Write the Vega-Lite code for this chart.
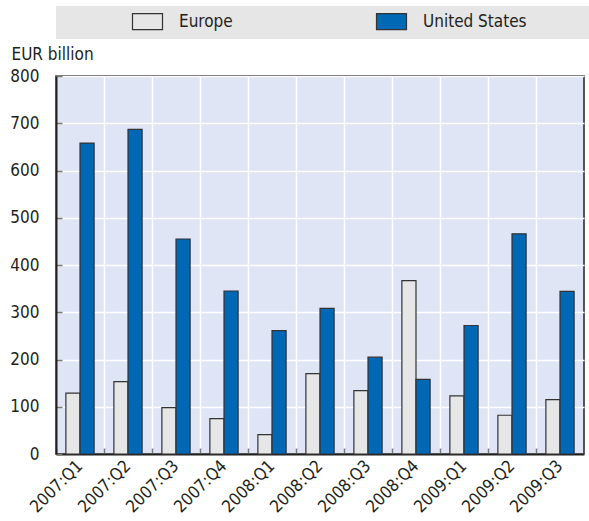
{
  "$schema": "https://vega.github.io/schema/vega-lite/v6.json",
  "width": 528,
  "height": 378,
  "autosize": {"type": "none"},
  "padding": {"left": 56, "top": 76, "right": 5, "bottom": 67},
  "background": "white",
  "config": {
    "font": "DejaVu Sans Condensed, Liberation Sans Narrow, sans-serif",
    "view": {"fill": "#dfe5f4", "stroke": "#231f20", "strokeWidth": 1.5},
    "axis": {"labelFont": "DejaVu Sans Condensed, Liberation Sans Narrow, sans-serif", "titleFont": "DejaVu Sans Condensed, Liberation Sans Narrow, sans-serif"},
    "legend": {"labelFont": "DejaVu Sans Condensed, Liberation Sans Narrow, sans-serif", "titleFont": "DejaVu Sans Condensed, Liberation Sans Narrow, sans-serif"}
  },
  "data": {
    "values": [
      {"quarter": "2007:Q1", "region": "Europe", "value": 129},
      {"quarter": "2007:Q2", "region": "Europe", "value": 153},
      {"quarter": "2007:Q3", "region": "Europe", "value": 98},
      {"quarter": "2007:Q4", "region": "Europe", "value": 75},
      {"quarter": "2008:Q1", "region": "Europe", "value": 41},
      {"quarter": "2008:Q2", "region": "Europe", "value": 170},
      {"quarter": "2008:Q3", "region": "Europe", "value": 134},
      {"quarter": "2008:Q4", "region": "Europe", "value": 367},
      {"quarter": "2009:Q1", "region": "Europe", "value": 123},
      {"quarter": "2009:Q2", "region": "Europe", "value": 82},
      {"quarter": "2009:Q3", "region": "Europe", "value": 115},
      {"quarter": "2007:Q1", "region": "United States", "value": 658},
      {"quarter": "2007:Q2", "region": "United States", "value": 687},
      {"quarter": "2007:Q3", "region": "United States", "value": 455},
      {"quarter": "2007:Q4", "region": "United States", "value": 345},
      {"quarter": "2008:Q1", "region": "United States", "value": 261},
      {"quarter": "2008:Q2", "region": "United States", "value": 308},
      {"quarter": "2008:Q3", "region": "United States", "value": 205},
      {"quarter": "2008:Q4", "region": "United States", "value": 158},
      {"quarter": "2009:Q1", "region": "United States", "value": 272},
      {"quarter": "2009:Q2", "region": "United States", "value": 466},
      {"quarter": "2009:Q3", "region": "United States", "value": 344}
    ]
  },
  "mark": {"type": "bar", "stroke": "#333333", "strokeWidth": 1.2},
  "encoding": {
    "x": {
      "field": "quarter",
      "type": "nominal",
      "sort": null,
      "scale": {"paddingInner": 0, "paddingOuter": 0},
      "axis": {
        "title": null,
        "bandPosition": 0,
        "grid": true,
        "gridColor": "white",
        "gridWidth": 1.5,
        "domainColor": "#231f20",
        "domainWidth": 2,
        "tickSize": -6,
        "tickColor": "#777777",
        "tickWidth": 1.5,
        "labelOffset": 0,
        "labelAngle": -45,
        "labelAlign": "right",
        "labelBaseline": "middle",
        "labelPadding": 15,
        "labelFontSize": 17,
        "labelColor": "#231f20"
      }
    },
    "xOffset": {
      "field": "region",
      "type": "nominal",
      "scale": {"paddingInner": 0, "paddingOuter": 0.7}
    },
    "y": {
      "field": "value",
      "type": "quantitative",
      "scale": {"domain": [0, 800], "nice": false},
      "axis": {
        "title": "EUR billion",
        "titleAngle": 0,
        "titleAlign": "left",
        "titleBaseline": "middle",
        "titleX": -45,
        "titleY": -22,
        "titleFontSize": 17,
        "titleFontWeight": "normal",
        "titleColor": "#231f20",
        "values": [0, 100, 200, 300, 400, 500, 600, 700, 800],
        "grid": true,
        "gridColor": "white",
        "gridWidth": 1.5,
        "domainColor": "#231f20",
        "domainWidth": 2,
        "tickSize": -6,
        "tickColor": "#777777",
        "tickWidth": 1.5,
        "labelPadding": 23,
        "labelFontSize": 17,
        "labelColor": "#231f20"
      }
    },
    "fill": {
      "field": "region",
      "type": "nominal",
      "scale": {"domain": ["Europe", "United States"], "range": ["#e6e6e6", "#0068b4"]},
      "legend": {
        "orient": "top",
        "direction": "horizontal",
        "title": "\u00a0",
        "titleOrient": "right",
        "titlePadding": 55,
        "fillColor": "#e6e6e6",
        "padding": 7,
        "offset": 37,
        "symbolType": "M-3,-1.6H3V1.6H-3Z",
        "symbolSize": 100,
        "symbolStrokeColor": "#333333",
        "symbolStrokeWidth": 1.2,
        "symbolOffset": 76,
        "labelOffset": 23,
        "columnPadding": 74,
        "labelFontSize": 17,
        "labelColor": "#231f20"
      }
    }
  }
}
